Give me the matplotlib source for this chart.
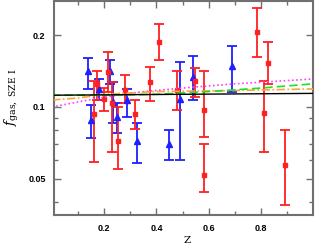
import numpy as np
import matplotlib
matplotlib.use("Agg")
import matplotlib.pyplot as plt
from matplotlib.ticker import FixedLocator, NullFormatter, FixedFormatter

# blue triangles: redshift, f_gas, lower / upper end of error bar
z_blue = [0.138, 0.151, 0.180, 0.222, 0.233, 0.249, 0.288, 0.326, 0.449, 0.490, 0.541, 0.689]
f_blue = [0.141, 0.088, 0.119, 0.141, 0.105, 0.091, 0.107, 0.072, 0.070, 0.108, 0.134, 0.149]
lo_blue = [0.119, 0.074, 0.107, 0.125, 0.086, 0.078, 0.091, 0.058, 0.060, 0.060, 0.107, 0.116]
hi_blue = [0.160, 0.102, 0.131, 0.157, 0.127, 0.104, 0.119, 0.086, 0.080, 0.154, 0.164, 0.180]

# red squares
z_red = [0.161, 0.172, 0.200, 0.215, 0.228, 0.254, 0.280, 0.319, 0.375, 0.411,
         0.480, 0.546, 0.582, 0.582, 0.784, 0.812, 0.828, 0.892]
f_red = [0.093, 0.125, 0.108, 0.140, 0.104, 0.072, 0.118, 0.093, 0.127, 0.188,
         0.118, 0.128, 0.097, 0.052, 0.206, 0.094, 0.153, 0.057]
lo_red = [0.059, 0.107, 0.096, 0.115, 0.065, 0.055, 0.104, 0.081, 0.106, 0.157,
          0.097, 0.110, 0.075, 0.044, 0.162, 0.065, 0.125, 0.039]
hi_red = [0.128, 0.141, 0.120, 0.170, 0.127, 0.100, 0.136, 0.107, 0.147, 0.222,
          0.142, 0.146, 0.142, 0.070, 0.260, 0.128, 0.187, 0.080]

# model curves
z_black = [0.0, 1.0]
f_black = [0.112, 0.114]
z_green = [0.0, 0.2, 0.4, 0.6, 0.8, 1.0]
f_green = [0.112, 0.112, 0.113, 0.116, 0.120, 0.125]
z_orange = [0.0, 0.1, 0.2, 0.4, 0.65, 1.0]
f_orange = [0.107, 0.109, 0.113, 0.116, 0.117, 0.119]
z_magenta = [0.0, 0.1, 0.2, 0.35, 0.5, 0.7, 1.0]
f_magenta = [0.100, 0.105, 0.110, 0.116, 0.120, 0.125, 0.131]

plt.rcParams['mathtext.fontset'] = 'dejavuserif'

fig = plt.figure(figsize=(3.15, 2.44), dpi=100)
ax = fig.add_axes([0.171, 0.118, 0.823, 0.878])

fb = np.array(f_blue)
ax.errorbar(z_blue, f_blue, yerr=[fb - np.array(lo_blue), np.array(hi_blue) - fb],
            fmt='^', color='#1f1fff', ms=5, elinewidth=1.3, capsize=3.5, capthick=1.3, zorder=3)
fr = np.array(f_red)
ax.errorbar(z_red, f_red, yerr=[fr - np.array(lo_red), np.array(hi_red) - fr],
            fmt='s', color='#ff2020', ms=3.0, elinewidth=1.3, capsize=3.5, capthick=1.3, zorder=3)

ax.plot(z_magenta, f_magenta, ls=(0, (1, 1.5)), color='#ff40ff', lw=1.2, zorder=4)
ax.plot(z_orange, f_orange, ls=(0, (5, 1.5, 1, 1.5)), color='#ffa040', lw=1.2, zorder=4)
ax.plot(z_green, f_green, ls=(0, (5, 2.5)), color='#20e020', lw=1.2, zorder=4)
ax.plot(z_black, f_black, '-', color='black', lw=1.0, zorder=5)

ax.set_yscale('log')
ax.set_xlim(0.007, 1.0)
ax.set_ylim(0.0352, 0.278)

ax.xaxis.set_major_locator(FixedLocator([0.2, 0.4, 0.6, 0.8]))
ax.xaxis.set_minor_locator(FixedLocator([0.1, 0.3, 0.5, 0.7, 0.9]))
ax.yaxis.set_major_locator(FixedLocator([0.05, 0.1, 0.2]))
ax.yaxis.set_major_formatter(FixedFormatter(['0.05', '0.1', '0.2']))
ax.yaxis.set_minor_locator(FixedLocator([0.04, 0.06, 0.07, 0.08, 0.09]))
ax.yaxis.set_minor_formatter(NullFormatter())

ax.tick_params(which='both', direction='in', top=True, right=True, color='#707070', width=1.0)
ax.tick_params(which='major', length=5, labelsize=6.5, pad=6)
ax.tick_params(which='minor', length=3)
for lab in ax.get_xticklabels() + ax.get_yticklabels():
    lab.set_fontweight('bold')
    lab.set_family('Liberation Sans')
for s in ax.spines.values():
    s.set_color('#707070')
    s.set_linewidth(1.5)

ax.set_xlabel('Z', family='DejaVu Serif', fontsize=7.5)
ax.xaxis.set_label_coords(0.515, -0.095)
ax.set_ylabel(r'$f_{\rm gas,\ SZE\ I}$', fontsize=9.5)
ax.yaxis.set_label_coords(-0.125, 0.55)

fig.savefig('out.png', dpi=100)
